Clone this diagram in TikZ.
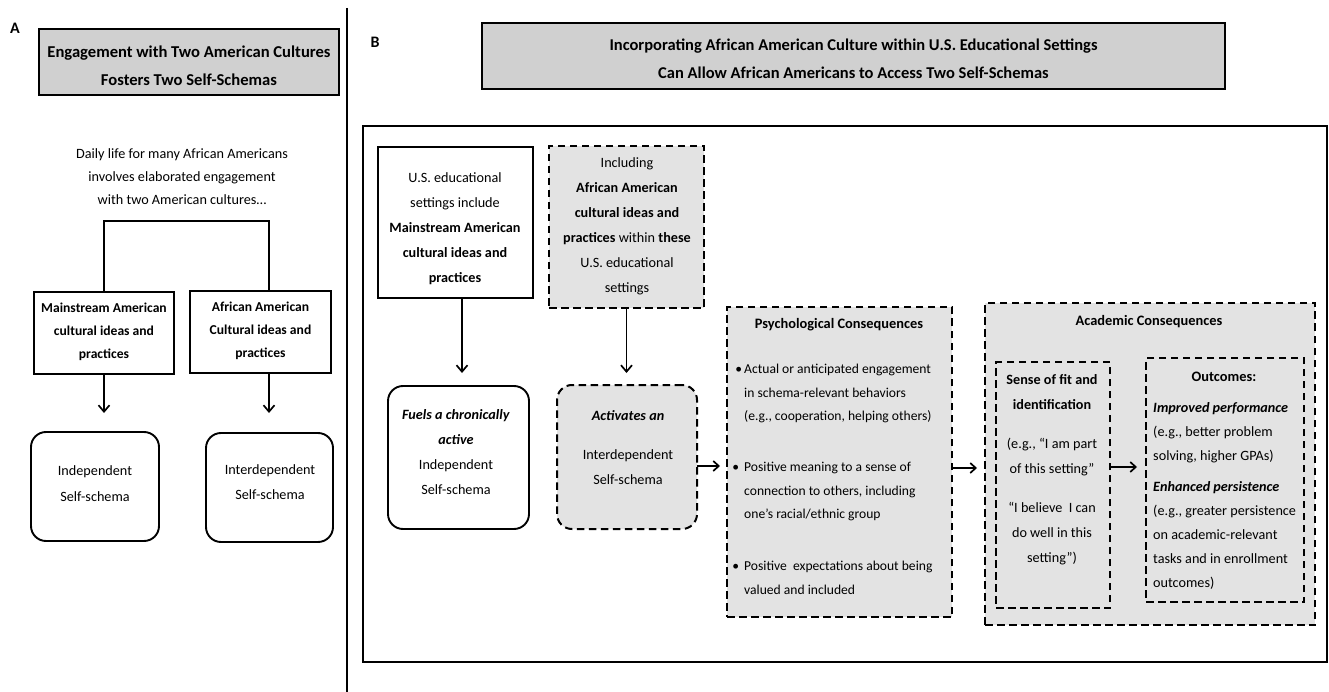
\documentclass[tikz,border=0pt]{standalone}
\usepackage{fontspec}
\setmainfont{Carlito}
\usetikzlibrary{arrows.meta}
\definecolor{titlefill}{RGB}{208,208,208}
\definecolor{lightfill}{RGB}{227,227,227}
\begin{document}
\begin{tikzpicture}[x=1pt,y=-1pt,
  base/.style={inner sep=0pt, outer sep=0pt},
  solidbox/.style={base, draw, line width=1.9pt},
  dashbox/.style={base, draw, line width=2pt, dash pattern=on 7.5pt off 4.5pt, fill=lightfill},
  titlebox/.style={base, draw, line width=1.6pt, fill=titlefill},
  txt/.style={inner sep=0pt, align=center, font=\fontsize{14.2pt}{25pt}\selectfont},
  ltxt/.style={inner sep=0pt, align=left, anchor=west},
  lbl/.style={inner sep=0pt, font=\bfseries\fontsize{16pt}{16pt}\selectfont},
  arr/.style={line width=1.7pt, -{Straight Barb[length=6.5pt,width=11pt]}},
  harr/.style={line width=1.7pt, -{Straight Barb[length=5.5pt,width=10pt]}},
]
\useasboundingbox (0,0) rectangle (1329,692);

% ---------------- Panel A ----------------
\node[lbl] (labA) at (15,28) {A};
\node[titlebox, minimum width=300pt, minimum height=66pt] (titA) at (189,62) {};
\node[txt, font=\bfseries\fontsize{16.6pt}{28pt}\selectfont] (titAt) at (189,66)
  {Engagement with Two American Cultures\\Fosters Two Self-Schemas};
\node[txt, font=\fontsize{14.2pt}{23pt}\selectfont] (daily) at (182,177)
  {Daily life for many African Americans\\involves elaborated engagement\\with two American cultures…};

\node[solidbox, minimum width=140pt, minimum height=82pt] (mA) at (104,333) {};
\node[txt, font=\bfseries\fontsize{13.6pt}{23pt}\selectfont] (mAt) at (104,332)
  {Mainstream American\\cultural ideas and\\practices};
\node[solidbox, minimum width=141pt, minimum height=82pt] (aA) at (260.5,332) {};
\node[txt, font=\bfseries\fontsize{13.6pt}{23pt}\selectfont] (aAt) at (260.5,331)
  {African American\\Cultural ideas and\\practices};

\coordinate (brR) at (269,221);
\draw[line width=1.6pt] (mA.north) |- (brR) -- (brR |- aA.north);

\node[solidbox, rounded corners=15pt, minimum width=128pt, minimum height=109pt] (indA) at (95,486.5) {};
\node[txt, font=\fontsize{14.2pt}{26pt}\selectfont] (indAt) at (95,484) {Independent\\Self-schema};
\node[solidbox, rounded corners=15pt, minimum width=127pt, minimum height=109pt] (intA) at (269.5,487.5) {};
\node[txt] (intAt) at (270,482) {Interdependent\\Self-schema};

\draw[arr] (mA.south) -- ([yshift=19pt]indA.north -| mA.south);
\draw[arr] (brR |- aA.south) -- ([yshift=20pt]intA.north -| brR);

\draw[line width=1.4pt] (347,8) -- (347,692);

% ---------------- Panel B ----------------
\node[lbl] (labB) at (375,42) {B};
\node[titlebox, minimum width=743pt, minimum height=66pt] (titB) at (853.5,56) {};
\node[txt, font=\bfseries\fontsize{16.5pt}{28pt}\selectfont] (titBt) at (853.5,59)
  {Incorporating African American Culture within U.S. Educational Settings\\Can Allow African Americans to Access Two Self-Schemas};

\node[solidbox, line width=2.2pt, minimum width=964pt, minimum height=536pt] (outer) at (845,394) {};

\node[solidbox, minimum width=155pt, minimum height=151pt] (us) at (455.5,222.5) {};
\node[txt] (ust) at (455,229)
  {U.S. educational\\settings include\\\textbf{Mainstream American}\\\textbf{cultural ideas and}\\\textbf{practices}};

\node[dashbox, minimum width=155pt, minimum height=162pt] (incl) at (626.5,227) {};
\node[txt] (inclt) at (627,226.5)
  {Including\\\textbf{African American}\\\textbf{cultural ideas and}\\\textbf{practices} within \textbf{these}\\U.S. educational\\settings};

\node[solidbox, rounded corners=15pt, minimum width=141pt, minimum height=143pt] (fuels) at (458.5,457.5) {};
\node[txt] (fuelst) at (456,452)
  {\textbf{\textit{Fuels a chronically}}\\\textbf{\textit{active}}\\Independent\\Self-schema};

\node[dashbox, rounded corners=15pt, minimum width=140pt, minimum height=144pt] (act) at (627,457) {};
\node[txt] (actt) at (628,448)
  {\textbf{\textit{Activates an}}\\[14pt]Interdependent\\Self-schema};

\draw[arr] ([xshift=6.5pt]us.south) coordinate (usS) -- ([yshift=13pt]fuels.north -| usS);
\draw[arr] (incl.south) -- ([yshift=12pt]act.north -| incl.south);

% Psychological consequences
\node[dashbox, minimum width=225pt, minimum height=310pt] (psych) at (839.5,462) {};
\node[txt, font=\bfseries\fontsize{14.4pt}{25pt}\selectfont] (psycht) at (839,325) {Psychological Consequences};
\node[ltxt, font=\fontsize{13.6pt}{23.5pt}\selectfont] (pb1) at (744,393.5)
  {\llap{\textbullet\hspace{2pt}}Actual or anticipated engagement\\in schema-relevant behaviors\\(e.g., cooperation, helping others)};
\node[ltxt, font=\fontsize{13.6pt}{23.5pt}\selectfont] (pb2) at (744,491.5)
  {\llap{\textbullet\hspace{5pt}}Positive meaning to a sense of\\connection to others, including\\one’s racial/ethnic group};
\node[ltxt, font=\fontsize{13.6pt}{23.5pt}\selectfont] (pb3) at (744,578)
  {\llap{\textbullet\hspace{5pt}}Positive\ \ expectations about being\\valued and included};

% Academic consequences
\node[dashbox, minimum width=330pt, minimum height=322pt] (acad) at (1150,464) {};
\node[txt, font=\bfseries\fontsize{14.4pt}{25pt}\selectfont] (acadt) at (1149,322) {Academic Consequences};

\node[dashbox, minimum width=114pt, minimum height=246pt] (sense) at (1053,485) {};
\node[txt] (senset) at (1052,470)
  {\textbf{Sense of fit and}\\\textbf{identification}\\[14pt](e.g., “I am part\\of this setting”\\[14pt]“I believe\ \ I can\\do well in this\\setting”)};

\node[dashbox, minimum width=158pt, minimum height=244pt] (out) at (1225,480) {};
\node[txt, font=\bfseries\fontsize{14.4pt}{25pt}\selectfont] (outt) at (1224,377) {Outcomes:};
\node[ltxt, font=\fontsize{14.2pt}{24pt}\selectfont] (outb) at (1153,495.5)
  {\textbf{\textit{Improved performance}}\\(e.g., better problem\\solving, higher GPAs)\\[7pt]\textbf{\textit{Enhanced persistence}}\\(e.g., greater persistence\\on academic-relevant\\tasks and in enrollment\\outcomes)};

% horizontal arrows
\draw[harr] ([yshift=-9pt]act.east) coordinate (aE) -- ([xshift=-7pt]psych.west |- aE);
\draw[harr] ([yshift=-6pt]psych.east) coordinate (pE) -- ([xshift=-8pt]acad.west |- pE);
\draw[harr] ([yshift=18pt]sense.east) coordinate (sE) -- ([xshift=-9pt]out.west |- sE);
\end{tikzpicture}
\end{document}
